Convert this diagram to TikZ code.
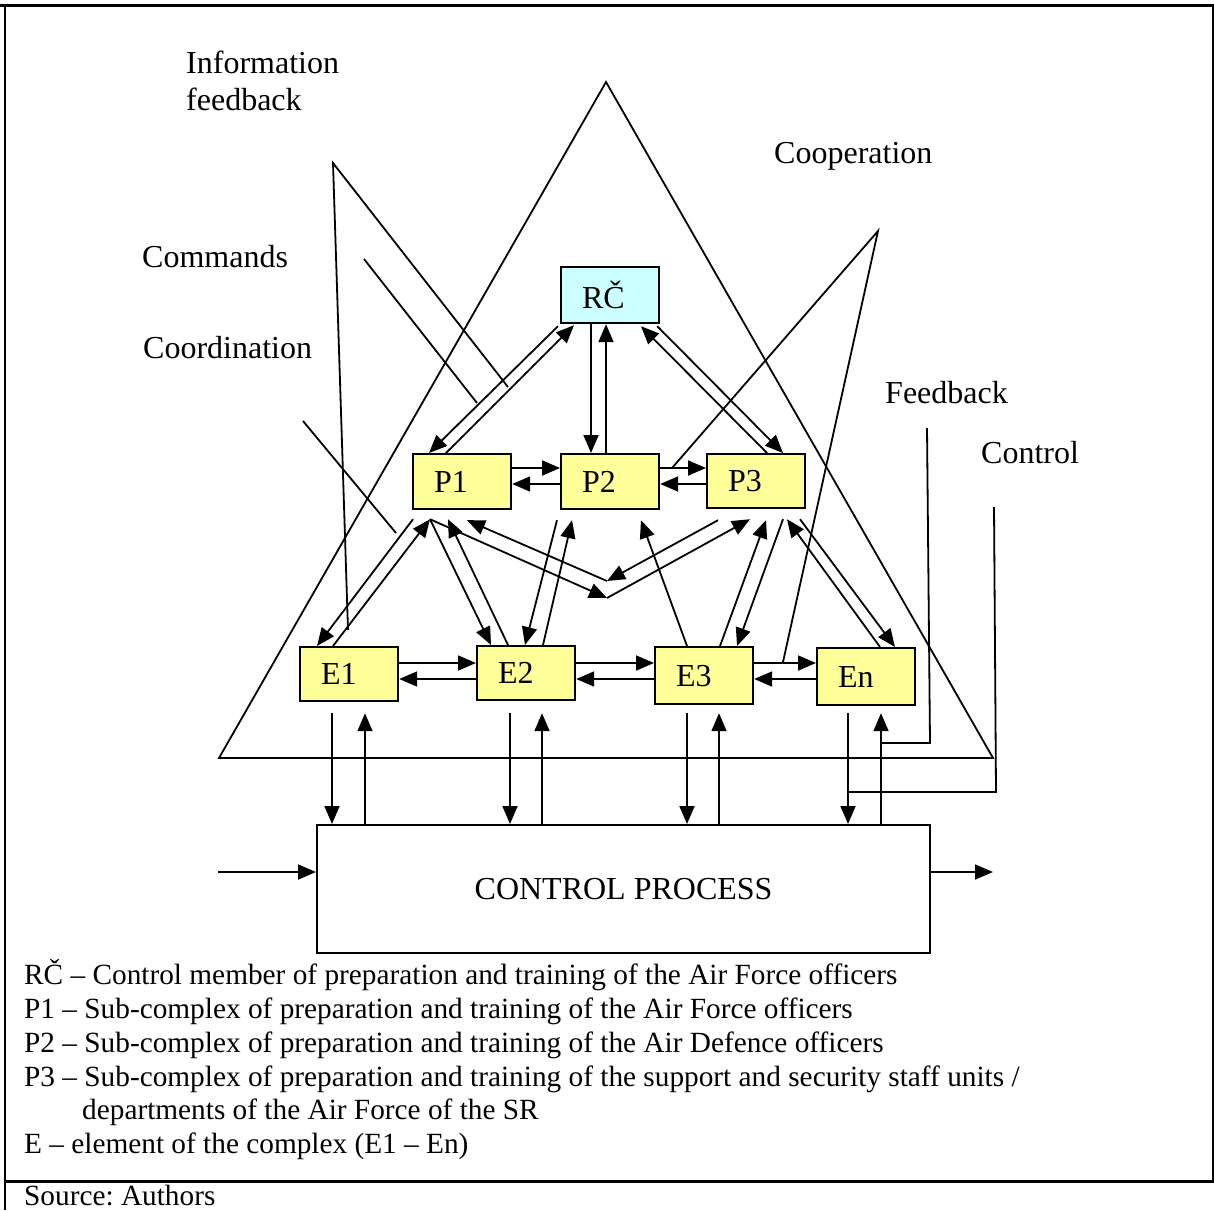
\documentclass[tikz,border=0pt]{standalone}
\usepackage{fontspec}
\setmainfont{Liberation Serif}
\usetikzlibrary{arrows.meta,calc}
\definecolor{boxyel}{HTML}{FFFF99}
\definecolor{boxcyan}{HTML}{CCFFFF}
\frenchspacing
\begin{document}
\begin{tikzpicture}[x=1pt,y=-1pt,
  ln/.style={line width=1.8pt},
  arr/.style={ln,-{Triangle[length=18pt,width=15pt]}},
  box/.style={draw,line width=2.2pt,anchor=north west,inner sep=0pt,inner xsep=21pt,
    minimum height=55pt,text width=56pt,align=left,font=\fontsize{32}{36}\selectfont},
  lab/.style={anchor=base west,inner sep=0pt,font=\fontsize{32}{37}\selectfont},
  leg/.style={anchor=base west,inner sep=0pt,font=\fontsize{29.3}{34}\selectfont}]
\useasboundingbox (0,0) rectangle (1214,1210);
% frame
\draw[line width=3pt] (0,5) -- (1214,5);
\draw[line width=2pt] (5,5) -- (5,1210);
\draw[line width=2pt] (1213,5) -- (1213,1181);
\draw[line width=3pt] (5,1181) -- (1214,1181);
% big triangle
\coordinate (apex) at (606,82);
\coordinate (tl) at (219,758);
\coordinate (tr) at (993,758);
\draw[ln] (apex) -- (tl) -- (tr) -- cycle;
% label pointer lines
\coordinate (ifv) at (333,163);
\coordinate (ifa) at (508,387);
\coordinate (ifb) at (348,630);
\draw[ln] (ifa) -- (ifv) -- (ifb);
\coordinate (cov) at (878,231);
\coordinate (coa) at (672,468);
\coordinate (cob) at (783,662);
\draw[ln] (coa) -- (cov) -- (cob);
\coordinate (cma) at (364,259);
\coordinate (cmb) at (477,403);
\draw[ln] (cma) -- (cmb);
\coordinate (cda) at (303,421);
\coordinate (cdb) at (396,533);
\draw[ln] (cda) -- (cdb);
% labels
\node[lab] (tinfo1) at (186,73) {Information};
\node[lab] (tinfo2) at (186,110) {feedback};
\node[lab] (tcoop) at (774,163) {Cooperation};
\node[lab] (tcomm) at (142,267) {Commands};
\node[lab] (tcoord) at (143,358) {Coordination};
\node[lab] (tfeed) at (885,403) {Feedback};
\node[lab] (tctrl) at (981,463) {Control};
% boxes
\node[box,fill=boxcyan,minimum height=56pt] (RC) at (560,266) {RČ};
\node[box,fill=boxyel] (P1) at (412,453) {P1};
\node[box,fill=boxyel] (P2) at (560,453) {P2};
\node[box,fill=boxyel,minimum height=54pt] (P3) at (706,453) {P3};
\node[box,fill=boxyel,minimum height=54pt] (E1) at (299,646) {E1};
\node[box,fill=boxyel,minimum height=54pt] (E2) at (476,645) {E2};
\node[box,fill=boxyel,minimum height=57pt] (E3) at (654,646) {E3};
\node[box,fill=boxyel,minimum height=57pt] (En) at (816,647) {En};
\node[draw,line width=2.2pt,anchor=north west,minimum width=613pt,minimum height=128pt,
  inner sep=0pt,font=\fontsize{32}{36}\selectfont] (CP) at (316,824) {CONTROL PROCESS};
% RC - P
\draw[arr] ($(RC.south west)+(-2,2)$) -- ($(P1.north west)+(17,0)$);
\draw[arr] ($(P1.north west)+(34,0)$) -- ($(RC.south west)+(14,1)$);
\draw[arr] ($(RC.south west)+(31,0)$) -- ($(P2.north west)+(31,0)$);
\draw[arr] ($(P2.north west)+(46,0)$) -- ($(RC.south west)+(46,0)$);
\draw[arr] ($(RC.south east)+(-3,2)$) -- ($(P3.north west)+(77,0)$);
\draw[arr] ($(P3.north west)+(61,0)$) -- ($(RC.south west)+(81,2)$);
% P row
\draw[arr] ($(P1.north east)+(0,15)$) -- ($(P2.north west)+(0,15)$);
\draw[arr] ($(P2.north west)+(0,31)$) -- ($(P1.north east)+(0,31)$);
\draw[arr] ($(P2.north east)+(0,15)$) -- ($(P3.north west)+(0,15)$);
\draw[arr] ($(P3.north west)+(0,31)$) -- ($(P2.north east)+(0,31)$);
% P - E
\draw[arr] ($(P1.south west)+(1,9)$) -- ($(E1.north west)+(18,0)$);
\draw[arr] ($(E1.north west)+(34,0)$) -- ($(P1.south west)+(18,9)$);
\draw[arr] ($(P1.south west)+(18,9)$) -- ($(E2.north west)+(15,0)$);
\draw[arr] ($(E2.north west)+(32,0)$) -- ($(P1.south west)+(36,9)$);
\coordinate (vlow) at (607,598);
\coordinate (vup) at (607,581);
\draw[arr] ($(P1.south west)+(18,9)$) -- (vlow);
\draw[arr] (vlow) -- ($(P3.south west)+(44,10)$);
\draw[arr] ($(P3.south west)+(12,11)$) -- (vup);
\draw[arr] (vup) -- ($(P1.south west)+(55,10)$);
\draw[arr] ($(P2.south west)+(-3,10)$) -- ($(E2.north west)+(49,0)$);
\draw[arr] ($(E2.north west)+(67,0)$) -- ($(P2.south west)+(12,10)$);
\draw[arr] ($(E3.north west)+(33,0)$) -- ($(P2.south west)+(81,10)$);
\draw[arr] ($(E3.north west)+(66,0)$) -- ($(P3.south west)+(60,11)$);
\draw[arr] ($(P3.south west)+(77,10)$) -- ($(E3.north west)+(83,0)$);
\draw[arr] ($(En.north west)+(64,0)$) -- ($(P3.south west)+(81,10)$);
\draw[arr] ($(P3.south west)+(94,10)$) -- ($(En.north west)+(79,0)$);
% E row
\draw[arr] ($(E1.north east)+(0,17)$) -- ($(E2.north west)+(0,18)$);
\draw[arr] ($(E2.north west)+(0,34)$) -- ($(E1.north east)+(0,33)$);
\draw[arr] ($(E2.north east)+(0,18)$) -- ($(E3.north west)+(0,17)$);
\draw[arr] ($(E3.north west)+(0,33)$) -- ($(E2.north east)+(0,34)$);
\draw[arr] ($(E3.north east)+(0,17)$) -- ($(En.north west)+(0,16)$);
\draw[arr] ($(En.north west)+(0,32)$) -- ($(E3.north east)+(0,33)$);
% E - CP
\draw[arr] ($(E1.south west)+(33,11)$) -- ($(CP.north west)+(16,0)$);
\draw[arr] ($(CP.north west)+(49,0)$) -- ($(E1.south west)+(66,11)$);
\draw[arr] ($(E2.south west)+(34,12)$) -- ($(CP.north west)+(194,0)$);
\draw[arr] ($(CP.north west)+(226,0)$) -- ($(E2.south west)+(66,12)$);
\draw[arr] ($(E3.south west)+(33,8)$) -- ($(CP.north west)+(371,0)$);
\draw[arr] ($(CP.north west)+(403,0)$) -- ($(E3.south west)+(65,8)$);
\draw[arr] ($(En.south west)+(32,7)$) -- ($(CP.north west)+(532,0)$);
\draw[arr] ($(CP.north west)+(565,0)$) -- ($(En.south west)+(65,7)$);
% feedback and control
\coordinate (fbt) at (927,428);
\coordinate (fbc) at (930,743);
\draw[ln] (fbt) -- (fbc) -- ($(CP.north west)+(565,-81)$);
\coordinate (ctt) at (994,507);
\coordinate (ctc) at (996,792);
\draw[ln] (ctt) -- (ctc) -- ($(CP.north west)+(532,-32)$);
% input / output
\coordinate (inp) at (218,872);
\coordinate (outp) at (993,872);
\draw[arr] (inp) -- ($(CP.north west)+(0,48)$);
\draw[arr] ($(CP.north east)+(0,48)$) -- (outp);
% legend
\node[leg] (L1) at (24,984) {RČ – Control member of preparation and training of the Air Force officers};
\node[leg] (L2) at (24,1018) {P1 – Sub-complex of preparation and training of the Air Force officers};
\node[leg] (L3) at (24,1052) {P2 – Sub-complex of preparation and training of the Air Defence officers};
\node[leg] (L4) at (24,1086) {P3 – Sub-complex of preparation and training of the support and security staff units /};
\node[leg] (L5) at (82,1119) {departments of the Air Force of the SR};
\node[leg] (L6) at (24,1153) {E – element of the complex (E1 – En)};
\node[leg] (L7) at (24,1205) {Source: Authors};
\end{tikzpicture}
\end{document}
